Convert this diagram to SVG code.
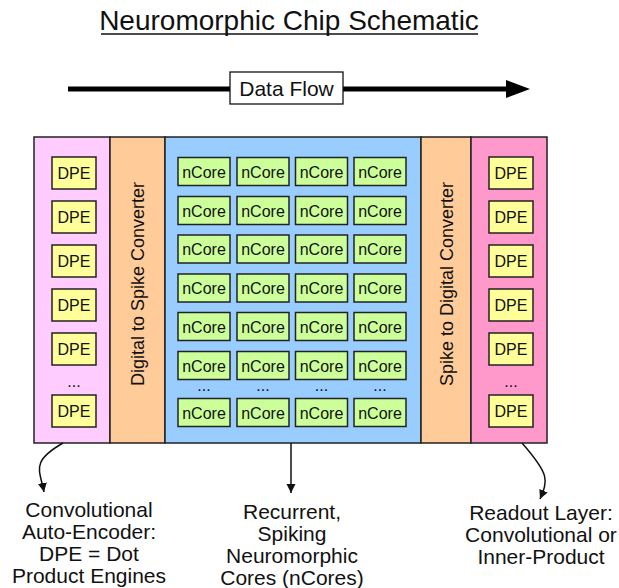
<svg xmlns="http://www.w3.org/2000/svg" width="619" height="588" viewBox="0 0 619 588">
  <style>
    text { font-family: "Liberation Sans", Arial, sans-serif; fill: #111; }
    .panel { stroke: #222; stroke-width: 1.5; }
    .dpe rect { fill: #ffff99; stroke: #222; stroke-width: 1.5; }
    .core rect { fill: #ccff99; stroke: #222; stroke-width: 1.5; }
    .lbl { font-size: 16px; text-anchor: middle; }
    .side { font-size: 18px; text-anchor: middle; }
    .cap { font-size: 21px; text-anchor: middle; }
    .link { fill: none; stroke: #111; stroke-width: 1.5; }
  </style>
  <defs>
    <marker id="tip" viewBox="0 0 10 10" refX="10" refY="5" markerWidth="9" markerHeight="12" markerUnits="userSpaceOnUse" orient="auto">
      <path d="M0,0 L10,5 L0,10 z" fill="#111"/>
    </marker>
    <g id="dpeBox" class="dpe"><rect x="0" y="0" width="44" height="32"/><text class="lbl" x="22" y="22">DPE</text></g>
    <g id="coreBox" class="core"><rect x="0" y="0" width="52" height="28"/><text class="lbl" x="26" y="20">nCore</text></g>
  </defs>

  <rect width="619" height="588" fill="#fff"/>

  <!-- title -->
  <g id="title">
    <text x="289" y="30" font-size="28" text-anchor="middle">Neuromorphic Chip Schematic</text>
    <line x1="101" y1="34" x2="478" y2="34" stroke="#111" stroke-width="1.4"/>
  </g>

  <!-- data flow arrow -->
  <g id="dataflow">
    <line x1="68" y1="89" x2="510" y2="89" stroke="#000" stroke-width="5"/>
    <path d="M506,80 L530,89 L506,98 z" fill="#000"/>
    <rect x="230" y="72" width="113" height="32" fill="#fff" stroke="#111" stroke-width="1.3"/>
    <text x="286.5" y="95.5" font-size="21" text-anchor="middle">Data Flow</text>
  </g>

  <!-- encoder column -->
  <g id="encoder">
    <rect class="panel" x="34" y="137" width="76" height="306" fill="#ffccff"/>
    <use href="#dpeBox" x="52" y="157"/>
    <use href="#dpeBox" x="52" y="201"/>
    <use href="#dpeBox" x="52" y="245"/>
    <use href="#dpeBox" x="52" y="289"/>
    <use href="#dpeBox" x="52" y="333"/>
    <text class="lbl" x="74" y="387">...</text>
    <use href="#dpeBox" x="52" y="395"/>
  </g>

  <!-- digital to spike -->
  <g id="d2s">
    <rect class="panel" x="110" y="137" width="55" height="306" fill="#ffcc99"/>
    <text class="side" transform="translate(144,284) rotate(-90)">Digital to Spike Converter</text>
  </g>

  <!-- core array -->
  <g id="cores">
    <rect class="panel" x="165" y="137" width="256" height="306" fill="#99ccff"/>
    <g>
      <use href="#coreBox" x="178" y="157.5"/><use href="#coreBox" x="237" y="157.5"/><use href="#coreBox" x="295.5" y="157.5"/><use href="#coreBox" x="354" y="157.5"/>
      <use href="#coreBox" x="178" y="196.5"/><use href="#coreBox" x="237" y="196.5"/><use href="#coreBox" x="295.5" y="196.5"/><use href="#coreBox" x="354" y="196.5"/>
      <use href="#coreBox" x="178" y="235"/><use href="#coreBox" x="237" y="235"/><use href="#coreBox" x="295.5" y="235"/><use href="#coreBox" x="354" y="235"/>
      <use href="#coreBox" x="178" y="274"/><use href="#coreBox" x="237" y="274"/><use href="#coreBox" x="295.5" y="274"/><use href="#coreBox" x="354" y="274"/>
      <use href="#coreBox" x="178" y="312.5"/><use href="#coreBox" x="237" y="312.5"/><use href="#coreBox" x="295.5" y="312.5"/><use href="#coreBox" x="354" y="312.5"/>
      <use href="#coreBox" x="178" y="351.5"/><use href="#coreBox" x="237" y="351.5"/><use href="#coreBox" x="295.5" y="351.5"/><use href="#coreBox" x="354" y="351.5"/>
      <text class="lbl" x="204" y="391">...</text><text class="lbl" x="263" y="391">...</text><text class="lbl" x="321.5" y="391">...</text><text class="lbl" x="380" y="391">...</text>
      <use href="#coreBox" x="178" y="398.5"/><use href="#coreBox" x="237" y="398.5"/><use href="#coreBox" x="295.5" y="398.5"/><use href="#coreBox" x="354" y="398.5"/>
    </g>
  </g>

  <!-- spike to digital -->
  <g id="s2d">
    <rect class="panel" x="421" y="137" width="50" height="306" fill="#ffcc99"/>
    <text class="side" transform="translate(452.5,284) rotate(-90)">Spike to Digital Converter</text>
  </g>

  <!-- readout column -->
  <g id="readout">
    <rect class="panel" x="471" y="137" width="76" height="306" fill="#ff99cc"/>
    <use href="#dpeBox" x="489" y="157"/>
    <use href="#dpeBox" x="489" y="201"/>
    <use href="#dpeBox" x="489" y="245"/>
    <use href="#dpeBox" x="489" y="289"/>
    <use href="#dpeBox" x="489" y="333"/>
    <text class="lbl" x="511" y="387">...</text>
    <use href="#dpeBox" x="489" y="395"/>
  </g>

  <!-- connectors -->
  <g id="connectors">
    <path class="link" d="M63,443 C30,462 40,470 44,492" marker-end="url(#tip)"/>
    <path class="link" d="M291,443 L291,493" marker-end="url(#tip)"/>
    <path class="link" d="M522,443 C550,475 548,480 540,499" marker-end="url(#tip)"/>
  </g>

  <!-- captions -->
  <g id="cap-encoder">
    <text class="cap" x="89" y="517">Convolutional</text>
    <text class="cap" x="89" y="539">Auto-Encoder:</text>
    <text class="cap" x="89" y="561">DPE = Dot</text>
    <text class="cap" x="89" y="583">Product Engines</text>
  </g>
  <g id="cap-cores">
    <text class="cap" x="292" y="519">Recurrent,</text>
    <text class="cap" x="292" y="541">Spiking</text>
    <text class="cap" x="292" y="563">Neuromorphic</text>
    <text class="cap" x="292" y="585">Cores (nCores)</text>
  </g>
  <g id="cap-readout">
    <text class="cap" x="541" y="520">Readout Layer:</text>
    <text class="cap" x="541" y="542">Convolutional or</text>
    <text class="cap" x="541" y="564">Inner-Product</text>
  </g>
</svg>
